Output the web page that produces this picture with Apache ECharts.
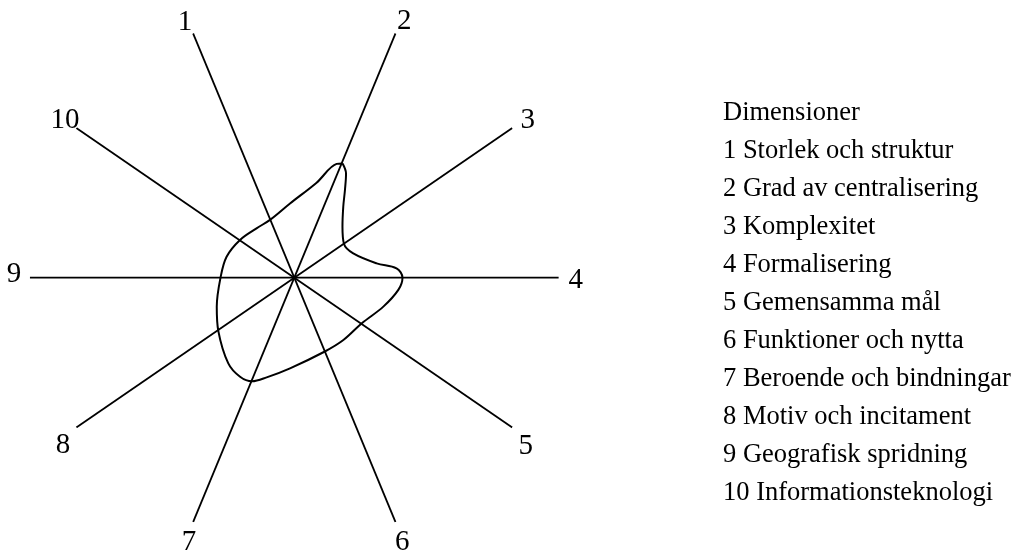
<!DOCTYPE html>
<html>
<head>
<meta charset="utf-8">
<title>Dimensioner</title>
<script src="https://cdn.jsdelivr.net/npm/echarts@6/dist/echarts.min.js"></script>
<style>
  html, body { margin: 0; padding: 0; background: #fff; }
  #chart { width: 1018px; height: 554px; }
</style>
</head>
<body>
<div id="chart"></div>
<script>
// dimensions (spokes), clockwise from 1 at the top
var dimensionNames = ['Storlek och struktur', 'Grad av centralisering', 'Komplexitet', 'Formalisering',
    'Gemensamma mål', 'Funktioner och nytta', 'Beroende och bindningar', 'Motiv och incitament',
    'Geografisk spridning', 'Informationsteknologi'];
var spokeAngles = [337.5, 22.5, 55.5, 90, 124.5, 157.5, 202.5, 235.5, 270, 304.5];
var spokeLength = 100;

// profile curve, read around the chart (angle in degrees clockwise from top, radius 0-100)
var profileAngles = [22.9, 26.4, 30.0, 34.6, 43.4, 55.9, 67.6, 80.1, 84.8, 90, 96.7, 108, 124, 141.8,
    157.5, 182.7, 195.5, 202.2, 208.7, 217.6, 234.9, 249.5, 270, 287.2, 304.8, 322.6, 337.2, 356.7,
    13.2, 20.4, 22.9];
var profileValues = [46.9, 44.0, 38.3, 32.6, 26.5, 22.7, 24.1, 31.6, 38.8, 40.9, 39.6, 35.4, 30.8, 30.0,
    30.2, 34.3, 39.1, 42.3, 42.7, 40.9, 35.1, 31.3, 27.9, 26.8, 25.0, 23.5, 23.7, 28.1,
    36.9, 45.9, 46.9];

// where the spoke numbers sit
var labelAngles = [336.8, 23.25, 55.95, 90.5, 126.1, 157.8, 201.7, 234, 270.7, 304.5];
var labelRadius = [104.9, 105.3, 106.5, 106.4, 108.3, 108.1, 107.7, 108.1, 106.0, 105.2];

var serifFont = '"Liberation Serif", "Times New Roman", serif';

var getSpokeSeries = function (angle) {
    return {
        type: 'line',
        coordinateSystem: 'polar',
        symbol: 'none',
        silent: true,
        lineStyle: {color: '#000', width: 1.8},
        data: [[0, angle], [spokeLength, angle]]
    };
};

var getOption = function () {
    var series = [];
    for (var i = 0; i < spokeAngles.length; i++) {
        series.push(getSpokeSeries(spokeAngles[i]));
    }
    var profile = [];
    for (var j = 0; j < profileAngles.length; j++) {
        profile.push([profileValues[j], profileAngles[j]]);
    }
    series.push({
        type: 'line',
        coordinateSystem: 'polar',
        symbol: 'none',
        smooth: 0.35,
        silent: true,
        lineStyle: {color: '#000', width: 2},
        data: profile
    });
    var labels = [];
    for (var k = 0; k < labelAngles.length; k++) {
        labels.push({name: String(k + 1), value: [labelRadius[k], labelAngles[k]]});
    }
    series.push({
        type: 'scatter',
        coordinateSystem: 'polar',
        clip: false,
        symbolSize: 1,
        itemStyle: {color: 'rgba(0,0,0,0)', opacity: 1},
        silent: true,
        label: {
            show: true,
            position: 'inside',
            formatter: '{b}',
            color: '#000',
            fontFamily: serifFont,
            fontSize: 29
        },
        data: labels
    });

    var legendLines = ['Dimensioner'];
    for (var m = 0; m < dimensionNames.length; m++) {
        legendLines.push((m + 1) + ' ' + dimensionNames[m]);
    }

    return {
        animation: false,
        backgroundColor: '#fff',
        title: {
            text: legendLines.join('\n'),
            left: 723,
            top: 94,
            padding: 0,
            textStyle: {
                fontFamily: serifFont,
                fontWeight: 'normal',
                fontSize: 26.5,
                lineHeight: 38,
                color: '#000'
            }
        },
        polar: {center: [294.3, 277.7], radius: 264.5},
        angleAxis: {type: 'value', min: 0, max: 360, startAngle: 90, clockwise: true, show: false},
        radiusAxis: {type: 'value', min: 0, max: spokeLength, show: false},
        series: series
    };
};

var chart = echarts.init(document.getElementById('chart'));
chart.setOption(getOption());
</script>
</body>
</html>
